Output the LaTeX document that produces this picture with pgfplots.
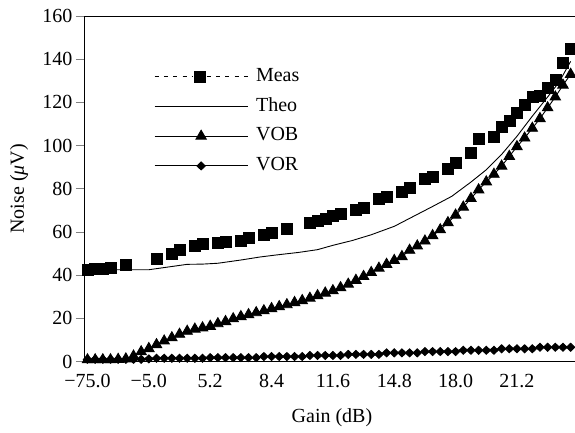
\documentclass[border=0pt]{standalone}
\usepackage{fontspec}
\setmainfont{Liberation Serif}
\usepackage{pgfplots}
\pgfplotsset{compat=1.18}

\begin{document}
\fontsize{20}{23}\selectfont
\begin{tikzpicture}
\useasboundingbox (-85pt,-70.5pt) rectangle (490pt,361.5pt);
\begin{axis}[
    at={(0pt,0pt)}, anchor=south west,
    scale only axis, width=491pt, height=345.5pt,
    xmin=-0.65, xmax=127.4, ymin=0, ymax=160,
    clip=false,
    axis line style={line width=1pt},
    xtick={0,16,...,112},
    xticklabels={−75.0,−5.0,5.2,8.4,11.6,14.8,18.0,21.2},
    minor xtick={0,2,...,126},
    xtick style={draw=none},
    minor x tick style={line width=0.8pt},
    minor tick length=4pt,
    ytick={0,20,...,160},
    major tick length=9pt,
    ytick style={line width=0.8pt, xshift=-9pt},
    xtick pos=bottom, ytick pos=left,
    /pgf/number format/assume math mode=true,
    x tick label style={anchor=center, yshift=-19.5pt},
    y tick label style={anchor=east, inner sep=0pt, xshift=-12.5pt},
    every axis x label/.style={at={(axis description cs:0.503,-0.1635)}, anchor=center},
    every axis y label/.style={at={(axis description cs:-0.1344,0.5)}, rotate=90, anchor=center},
    xlabel={Gain (dB)},
    ylabel={Noise (\textit{μ}V)},
    legend cell align=left,
    legend style={draw=none, fill=none, inner sep=0pt,
        at={(axis description cs:0.1405,0.852)}, anchor=north west,
        row sep=10.7pt, column sep=8pt,
        nodes={inner sep=0pt, text height=14pt, text depth=5pt}},
    legend image code/.code={\draw[#1,mark repeat=2,mark phase=2] plot coordinates {(0pt,0pt) (46.5pt,0pt) (93pt,0pt)};},
]
% Meas
\addplot[black, only marks, mark=square*, mark size=5.5pt,
    legend image code/.code={
        \draw[black,line width=0.8pt,dash pattern=on 4pt off 5.3pt] (0pt,0pt)--(38pt,0pt) (52pt,0pt)--(93pt,0pt);
        \fill[black] (39.5pt,-5.5pt) rectangle (50.5pt,5.5pt);}]
coordinates {
(0,42.5) (2,43) (4,43) (6,43.5) (10,45) (18,47.5) (22,50) (24,52) (28,53.5)
(30,54.5) (34,55) (36,55.5) (40,56) (42,57.5) (46,58.5) (48,59.5) (52,61.5)
(58,64.3) (60,65.3) (62,66) (64,67.5) (66,68.5) (70,70.4) (72,71.3) (76,75.5)
(78,76.4) (82,78.7) (84,80.6) (88,84.8) (90,85.7) (94,89.4) (96,92.2) (100,96.8)
(102,103.3) (106,104.2) (108,108.9) (110,111.7) (112,115.4) (114,118.7) (116,122.4)
(118,122.9) (120,127) (122,130.7) (124,138.6) (126,145)
};
% Theo
\addplot[black, line width=0.9pt, mark=none] coordinates {
(0,42.5) (16,42.5) (20,43.5) (26,45) (30,45.1) (34,45.5) (40,47) (45,48.4)
(50,49.5) (55,50.5) (60,51.8) (64,53.8) (69,56) (74,58.7) (80,62.6) (85,67.2)
(90,71.8) (95,76.5) (100,83.1) (104,88.8) (108,95.9) (112,104.3) (116,113.6)
(120,122.5) (123,129.4) (126,139)
};
% VOB
\addplot[black, line width=0.9pt, mark=triangle*, mark size=6pt] coordinates {
(0,0.8) (2,0.8) (4,0.8) (6,0.8) (8,1) (10,1.2) (12,2.5) (14,4.5) (16,6) (18,7.8)
(20,9.5) (22,11) (24,12.6) (26,14) (28,15) (30,15.6) (32,16.3) (34,17.5) (36,18.5)
(38,19.8) (40,20.8) (42,21.7) (44,22.6) (46,23.5) (48,24.5) (50,25.4) (52,26.3)
(54,27.3) (56,28.2) (58,29.3) (60,30.5) (62,31.7) (64,32.8) (66,34.2) (68,35.8)
(70,37.6) (72,39.4) (74,41.2) (76,43.2) (78,45) (80,46.8) (82,48.6) (84,51.5)
(86,53.5) (88,55.8) (90,58.3) (92,61) (94,64.3) (96,67.8) (98,71.5) (100,75.5)
(102,79.5) (104,83.2) (106,86.7) (108,90.5) (110,95) (112,99.5) (114,103.5)
(116,108) (118,112.5) (120,117.5) (122,122.5) (124,128) (126,133)
};
% VOR
\addplot[black, line width=0.9pt, mark=diamond*, mark size=4pt, mark options={xscale=1.4}] coordinates {
(0,1.0) (2,1.0) (4,1.0) (6,1.0) (8,1.0) (10,1.0) (12,1.0) (14,1.0) (16,1.2) (18,1.5)
(20,1.5) (22,1.5) (24,1.5) (26,1.5) (28,1.5) (30,1.5) (32,1.8) (34,1.8) (36,1.8)
(38,1.8) (40,1.8) (42,1.8) (44,1.8) (46,2.3) (48,2.3) (50,2.3) (52,2.3) (54,2.3)
(56,2.3) (58,2.8) (60,2.8) (62,2.8) (64,2.8) (66,2.8) (68,3.3) (70,3.3) (72,3.3)
(74,3.3) (76,3.3) (78,4.0) (80,4.0) (82,4.0) (84,4.0) (86,4.0) (88,4.6) (90,4.6)
(92,4.6) (94,4.6) (96,4.6) (98,5.2) (100,5.2) (102,5.2) (104,5.2) (106,5.2)
(108,5.9) (110,5.9) (112,5.9) (114,5.9) (116,5.9) (118,6.6) (120,6.6) (122,6.6)
(124,6.6) (126,6.6)
};
\legend{Meas, Theo, VOB, VOR}
\end{axis}
\end{tikzpicture}
\end{document}
